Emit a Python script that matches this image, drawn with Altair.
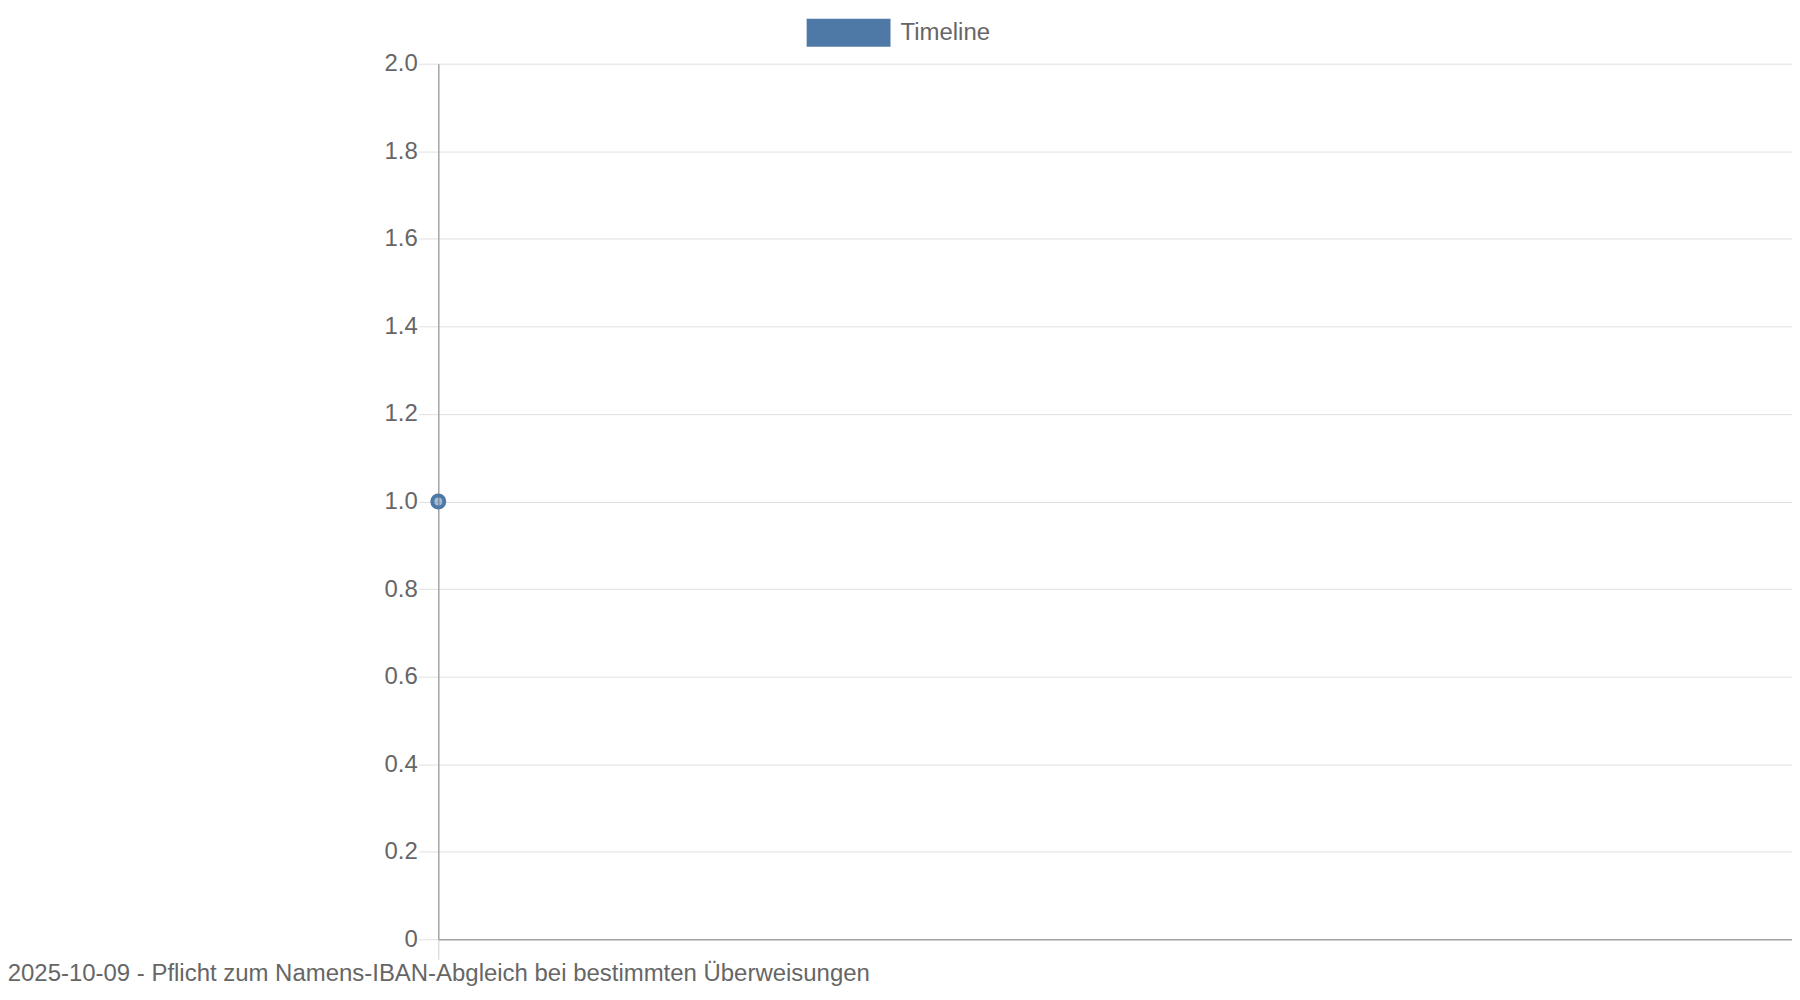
import altair as alt
import pandas as pd

# ---- data ----
categories = ["2025-10-09 - Pflicht zum Namens-IBAN-Abgleich bei bestimmten Überweisungen"]
values = [1.0]
series_names = ["Timeline"]
y_ticks = [0, 0.2, 0.4, 0.6, 0.8, 1.0, 1.2, 1.4, 1.6, 1.8, 2.0]

df = pd.DataFrame({
    "label": categories,
    "value": values,
    "series": series_names * len(categories),
})

FONT = "Liberation Sans"
TXT = "#666666"
BLUE = "#4e79a7"
GRID = "#e0e0e0"
AXIS = "#a4a4a4"

chart = (
    alt.Chart(df)
    .mark_point(filled=True, size=144, fillOpacity=0.5, stroke=BLUE, strokeWidth=4, opacity=1)
    .encode(
        x=alt.X(
            "label:N",
            sort=None,
            scale=alt.Scale(type="point", padding=0, align=0),
            axis=alt.Axis(
                title=None, labelAngle=0, labelLimit=0, grid=False,
                tickSize=20, tickColor="#d0d0d0", tickWidth=1,
                domainColor=AXIS, domainWidth=1.5,
                labelPadding=2, labelFont=FONT, labelFontSize=24, labelColor=TXT,
            ),
        ),
        y=alt.Y(
            "value:Q",
            scale=alt.Scale(domain=[0, 2], nice=False, zero=True),
            axis=alt.Axis(
                title=None, values=y_ticks,
                labelExpr="datum.value == 0 ? '0' : format(datum.value, '.1f')",
                grid=True, gridColor=GRID, gridWidth=1,
                tickSize=20, tickColor=GRID, tickWidth=1,
                domainColor=AXIS, domainWidth=1.5,
                labelPadding=1, labelFont=FONT, labelFontSize=24, labelColor=TXT,
            ),
        ),
        color=alt.Color(
            "series:N",
            scale=alt.Scale(range=[BLUE]),
            legend=alt.Legend(
                title=None, orient="none", legendX=369, legendY=-45,
                direction="horizontal",
                symbolType="M-3,-1H3V1H-3Z", symbolSize=784,
                symbolStrokeWidth=0, symbolOpacity=1, symbolFillColor=BLUE,
                symbolOffset=28, labelOffset=38,
                labelFont=FONT, labelFontSize=24, labelColor=TXT,
            ),
        ),
    )
    .properties(
        width=1356,
        height=877,
        autosize=alt.AutoSizeParams(type="none"),
        padding={"left": 431, "top": 55, "right": 0, "bottom": 50},
    )
    .configure_view(strokeWidth=0)
)

chart.save("out.html", embed_options={"renderer": "svg", "actions": False})
